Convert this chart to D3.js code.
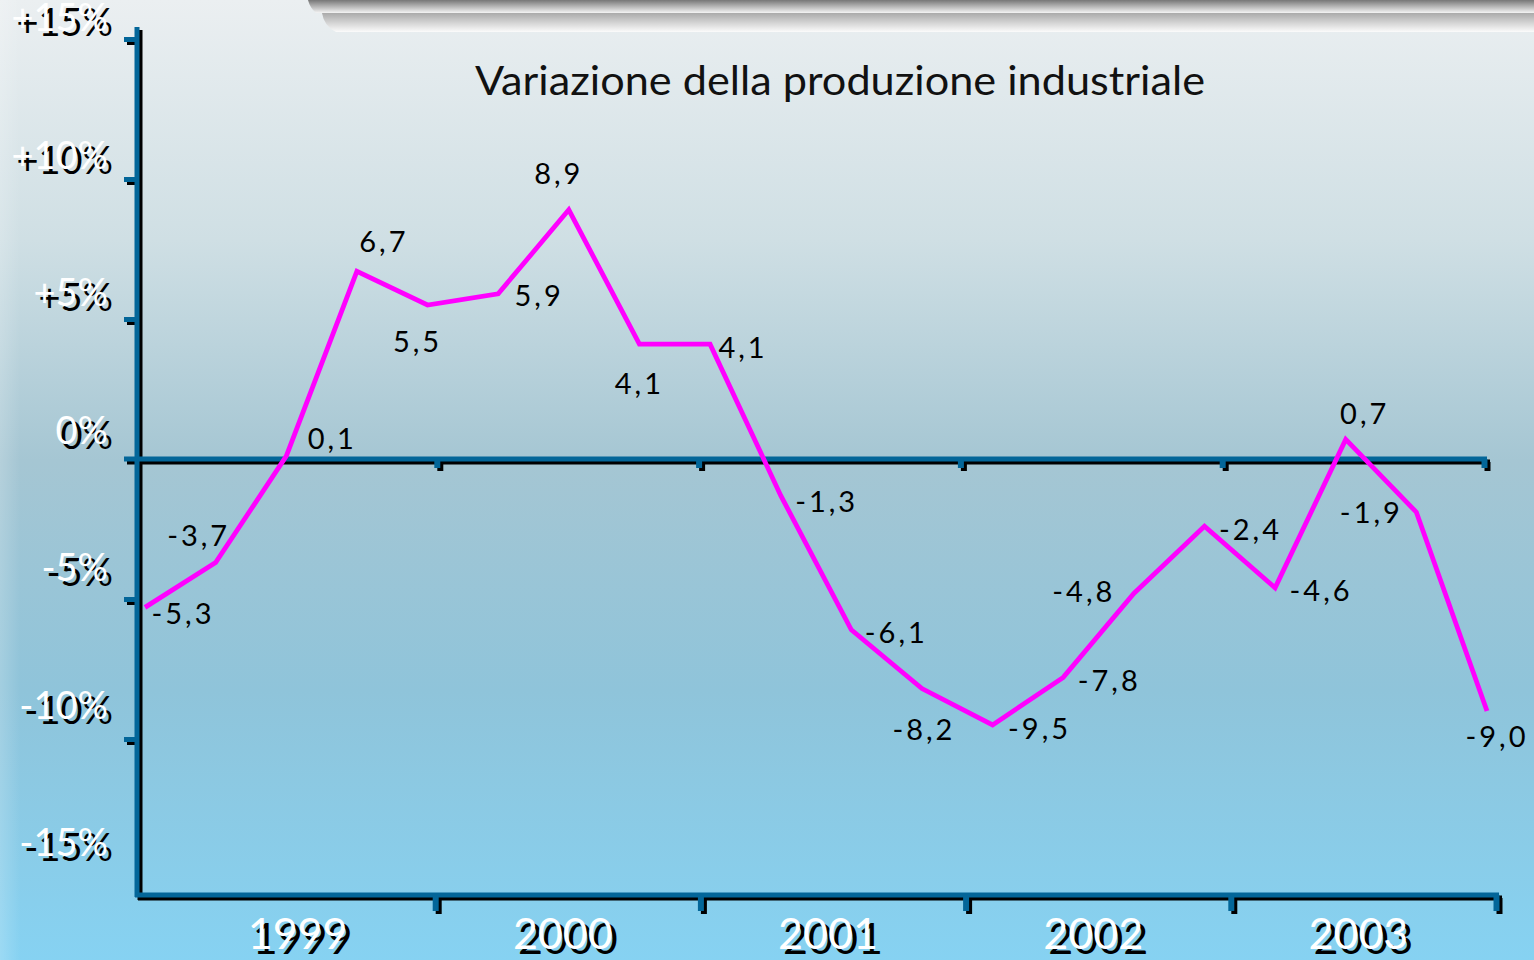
<html>
<head>
<meta charset="utf-8">
<script src="https://d3js.org/d3.v7.min.js"></script>
<style>
  body { margin: 0; background: #fff; }
  text { font-family: Lato, "Open Sans", sans-serif; }
</style>
</head>
<body>
<svg width="1534" height="960"></svg>
<script>
// dati: variazione % della produzione industriale (trimestrale)
var periods = ["99-1","99-2","99-3","99-4","00-1","00-2","00-3","00-4","01-1","01-2",
               "01-3","01-4","02-1","02-2","02-3","02-4","03-1","03-2","03-3","03-4"];
var values = [-5.3,-3.7,0.1,6.7,5.5,5.9,8.9,4.1,4.1,-1.3,-6.1,-8.2,-9.5,-7.8,-4.8,-2.4,-4.6,0.7,-1.9,-9.0];
var years = [1999, 2000, 2001, 2002, 2003];
var yTicks = [15, 10, 5, 0, -5, -10, -15];
var yTickLabels = ["+15%","+10%","+5%","0%","-5%","-10%","-15%"];
// dove mettere l'etichetta rispetto al punto
var labelOffset = [[38,5],[-17,-28],[46,-19],[27,-31],[-10,35],[41,1],[-10,-37],[0,38],[33,2],[46,5],
                   [45,2],[2,40],[47,2],[46,2],[-50,-3],[46,2],[46,2],[19,-27],[-45,-1],[10,24]];

var svg = d3.select("svg");
var blue = "#036699";

var defs = svg.append("defs");
var bg = defs.append("linearGradient").attr("id","bg").attr("x1",0).attr("y1",0).attr("x2",0).attr("y2",1);
[["0","#ebeff1"],["0.25","#cfdfe4"],["0.48","#a5c6d3"],["0.72","#8fc4da"],["1","#86d2f2"]].forEach(function(s){
  bg.append("stop").attr("offset",s[0]).attr("stop-color",s[1]);
});
var lft = defs.append("linearGradient").attr("id","lft");
lft.append("stop").attr("offset","0").attr("stop-color","#fff").attr("stop-opacity",0.18);
lft.append("stop").attr("offset","1").attr("stop-color","#fff").attr("stop-opacity",0);
var b1 = defs.append("linearGradient").attr("id","b1").attr("x1",0).attr("y1",0).attr("x2",0).attr("y2",1);
b1.append("stop").attr("offset","0").attr("stop-color","#777");
b1.append("stop").attr("offset","1").attr("stop-color","#f4f4f4");
var b2 = defs.append("linearGradient").attr("id","b2").attr("x1",0).attr("y1",0).attr("x2",0).attr("y2",1);
b2.append("stop").attr("offset","0").attr("stop-color","#aaa");
b2.append("stop").attr("offset","1").attr("stop-color","#fbfbfb");

svg.append("rect").attr("width",1534).attr("height",960).attr("fill","url(#bg)");
svg.append("rect").attr("width",20).attr("height",960).attr("fill","url(#lft)");

// cornice in alto
svg.append("path").attr("fill","url(#b1)")
  .attr("d","M308,0 L1534,0 L1534,13 L316,13 Q310,8 308,0 Z");
svg.append("path").attr("fill","url(#b2)")
  .attr("d","M322,13 L1534,13 L1534,32 L336,32 Q324,26 322,13 Z");

// scale
var x = d3.scalePoint().domain(periods).range([145, 1487]);
var y = d3.scaleLinear().domain([-15, 15]).range([879, 39]);
var yLab = d3.scaleLinear().domain([-15, 15]).range([861, 36]); // linea di base etichette asse y
var xTop = d3.scaleLinear().domain([1999, 2004]).range([175, 1484]);
var xBot = d3.scaleLinear().domain([1999, 2004]).range([170, 1496]);

// assi con ombra
function axes(g, col) {
  g.append("line").attr("x1",137).attr("x2",137).attr("y1",27).attr("y2",897)
    .attr("stroke",col).attr("stroke-width",5);
  g.append("g").attr("transform","translate(137,0)")
    .call(d3.axisLeft(y).tickValues([15,10,5,-5,-10]).tickSize(13).tickFormat(""))
    .call(function(a){ a.select(".domain").remove(); a.selectAll("line").attr("stroke",col).attr("stroke-width",5); });
  g.append("line").attr("x1",124).attr("x2",1487).attr("y1",y(0)).attr("y2",y(0))
    .attr("stroke",col).attr("stroke-width",5);
  g.append("g").attr("transform","translate(0,"+y(0)+")")
    .call(d3.axisBottom(xTop).tickValues([2000,2001,2002,2003,2004]).tickSize(9).tickFormat(""))
    .call(function(a){ a.select(".domain").remove(); a.selectAll("line").attr("stroke",col).attr("stroke-width",6); });
  g.append("line").attr("x1",135).attr("x2",1499).attr("y1",895).attr("y2",895)
    .attr("stroke",col).attr("stroke-width",5);
  g.append("g").attr("transform","translate(0,895)")
    .call(d3.axisBottom(xBot).tickValues([2000,2001,2002,2003,2004]).tickSize(16).tickFormat(""))
    .call(function(a){ a.select(".domain").remove(); a.selectAll("line").attr("stroke",col).attr("stroke-width",6); });
}
axes(svg.append("g").attr("transform","translate(3,3)"), "#000");
axes(svg.append("g"), blue);

// etichette asse y (nero + bianco sfalsato)
yTicks.forEach(function(v, i){
  svg.append("text").attr("x",113).attr("y",yLab(v)).attr("text-anchor","end")
    .attr("font-size",38).attr("fill","#000").text(yTickLabels[i]);
  svg.append("text").attr("x",108).attr("y",yLab(v)-5).attr("text-anchor","end")
    .attr("font-size",38).attr("fill","#fff").text(yTickLabels[i]);
});

// anni
years.forEach(function(yr){
  var cx = xBot(yr + 0.5);
  svg.append("text").attr("x",cx).attr("y",954).attr("text-anchor","middle")
    .attr("font-size",43).attr("fill","#000").text(yr);
  svg.append("text").attr("x",cx-5).attr("y",949).attr("text-anchor","middle")
    .attr("font-size",43).attr("fill","#fff").text(yr);
});

// titolo
svg.append("text").attr("x",840).attr("y",95).attr("text-anchor","middle")
  .attr("font-size",40).attr("fill","#111")
  .attr("textLength",730).attr("lengthAdjust","spacingAndGlyphs")
  .text("Variazione della produzione industriale");

// linea
var line = d3.line().x(function(d,i){ return x(periods[i]); }).y(function(d){ return y(d); });
svg.append("path").datum(values).attr("d",line)
  .attr("fill","none").attr("stroke","#ff00ff").attr("stroke-width",4.8)
  .attr("stroke-linejoin","miter");

// etichette valori
svg.selectAll(".lbl").data(values).enter().append("text")
  .attr("class","lbl")
  .attr("x",function(d,i){ return x(periods[i]) + labelOffset[i][0]; })
  .attr("y",function(d,i){ return y(d) + labelOffset[i][1]; })
  .attr("text-anchor","middle").attr("dominant-baseline","central")
  .attr("font-size",29).attr("letter-spacing",3).attr("fill","#000")
  .text(function(d){ return d.toFixed(1).replace(".", ","); });
</script>
</body>
</html>
